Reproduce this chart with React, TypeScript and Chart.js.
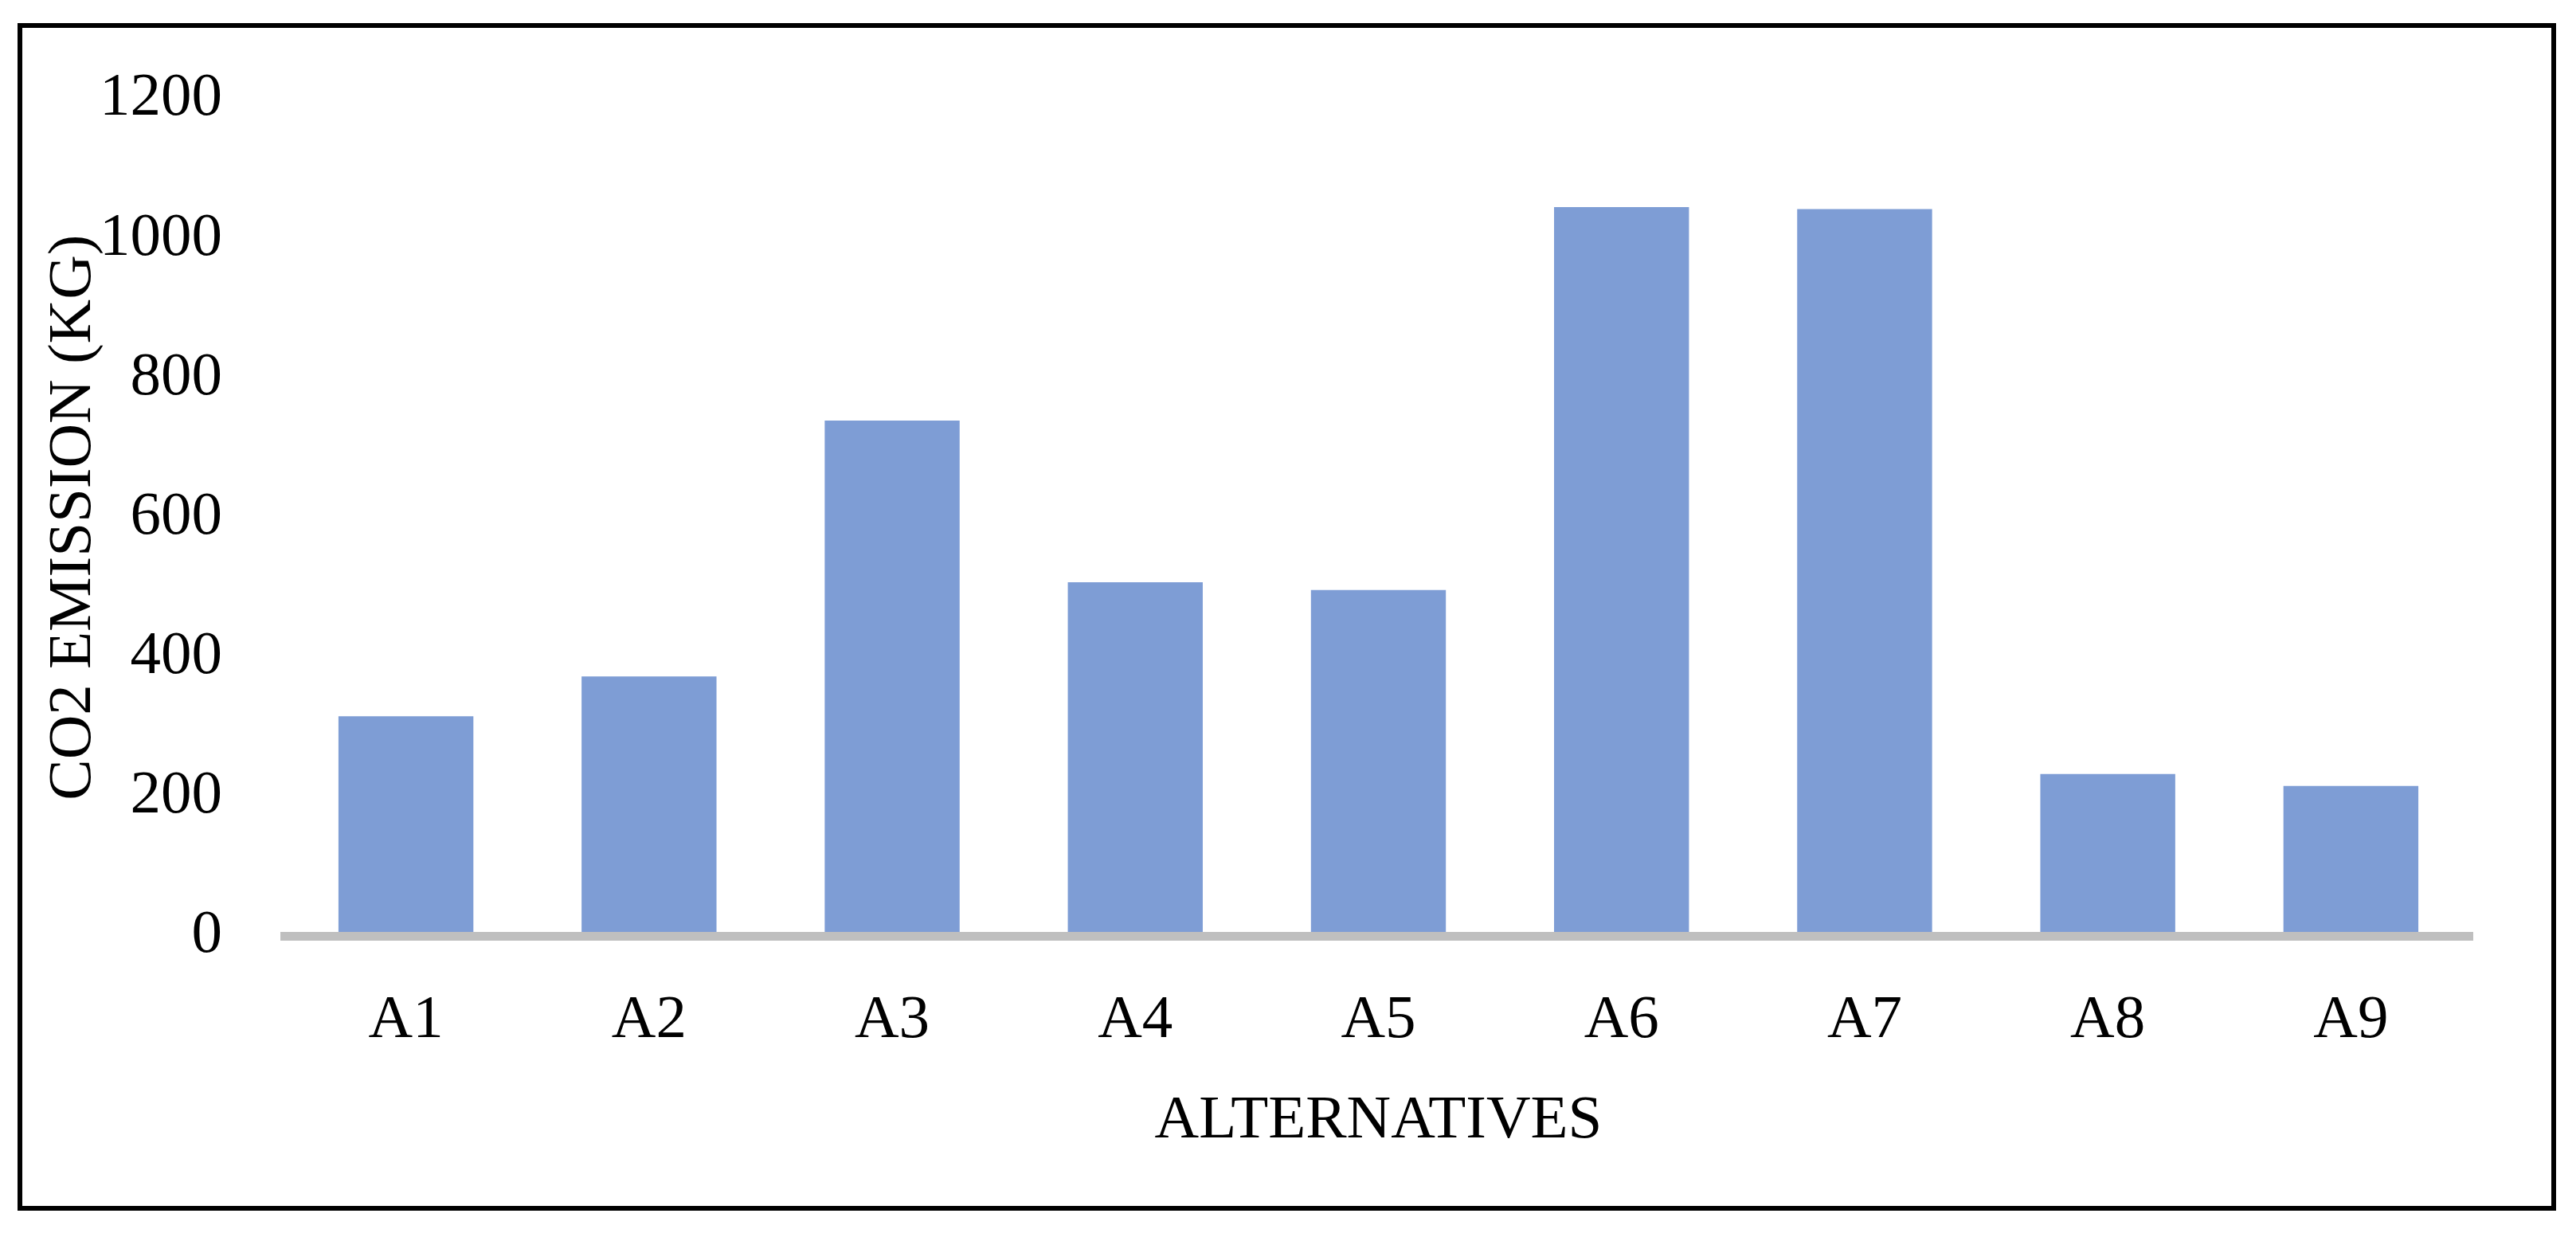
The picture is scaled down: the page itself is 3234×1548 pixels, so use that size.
import { useEffect, useRef } from "react";
import { Chart, registerables } from "chart.js";

Chart.register(...registerables);

const categories = ["A1", "A2", "A3", "A4", "A5", "A6", "A7", "A8", "A9"];
const co2Values = [315, 372, 739, 507, 496, 1045, 1042, 232, 215];
const yTicks = [0, 200, 400, 600, 800, 1000, 1200];
const xTitle = "ALTERNATIVES";
const yTitle = "CO2 EMISSION (KG)";

const W = 3234;
const H = 1548;

export default function App() {
  const ref = useRef<HTMLCanvasElement>(null);

  useEffect(() => {
    document.body.style.margin = "0";
    const canvas = ref.current;
    if (!canvas) return;

    const framePlugin = {
      id: "frame",
      beforeDraw(chart: any) {
        const ctx = chart.ctx;
        ctx.save();
        ctx.fillStyle = "#ffffff";
        ctx.fillRect(0, 0, W, H);
        ctx.restore();
      },
      afterDraw(chart: any) {
        const ctx = chart.ctx;
        ctx.save();
        ctx.strokeStyle = "#000000";
        ctx.lineWidth = 6;
        ctx.strokeRect(25, 32, 3181, 1485);
        ctx.restore();
      },
    };

    const font = {
      family: "'Liberation Serif', 'Times New Roman', serif",
      size: 77,
      lineHeight: 1.2,
    };

    const chart = new Chart(canvas, {
      type: "bar",
      data: {
        labels: categories,
        datasets: [
          {
            data: co2Values,
            backgroundColor: "#7E9DD5",
            borderWidth: 0,
            barPercentage: 0.555,
            categoryPercentage: 1,
          },
        ],
      },
      options: {
        responsive: false,
        animation: false,
        devicePixelRatio: 1,
        layout: { padding: { top: 118, left: 0, right: 130, bottom: 0 } },
        plugins: {
          legend: { display: false },
          tooltip: { enabled: false },
        },
        scales: {
          x: {
            grid: { display: false, drawTicks: false },
            border: { display: true, color: "#BFBFBF", width: 11, z: 1 },
            ticks: {
              color: "#000000",
              font,
              padding: 61,
              maxRotation: 0,
              autoSkip: false,
            },
            title: {
              display: true,
              text: xTitle,
              color: "#000000",
              font,
              padding: { top: 0, bottom: 94 },
            },
            afterFit: (s: any) => {
              s.height = 373;
            },
          },
          y: {
            min: 0,
            max: 1200,
            grid: { display: false, drawTicks: false },
            border: { display: false },
            ticks: {
              stepSize: 200,
              color: "#000000",
              font,
              padding: 78,
              callback: (v: any) => String(v),
            },
            afterBuildTicks: (s: any) => {
              s.ticks = yTicks.map((v) => ({ value: v }));
            },
            title: {
              display: true,
              text: yTitle,
              color: "#000000",
              font,
              padding: { top: 47, bottom: 0 },
            },
            afterFit: (s: any) => {
              s.width = 357;
            },
          },
        },
      },
      plugins: [framePlugin],
    } as any);

    return () => chart.destroy();
  }, []);

  return (
    <canvas
      ref={ref}
      width={W}
      height={H}
      style={{ display: "block", width: W, height: H }}
    />
  );
}
